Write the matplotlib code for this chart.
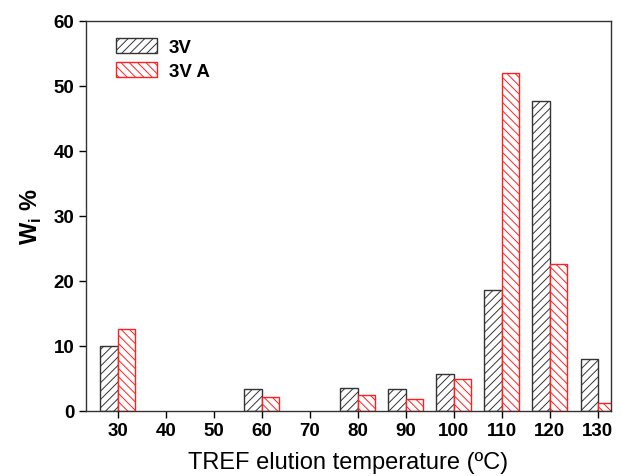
import numpy as np
import matplotlib
matplotlib.use("Agg")
import matplotlib.pyplot as plt

plt.rcParams['font.family'] = ['Liberation Sans', 'DejaVu Sans']
plt.rcParams['hatch.linewidth'] = 0.7

# TREF fractions (only temperatures with non-zero fractions)
temps = [30, 60, 80, 90, 100, 110, 120, 130]
w_3v = [9.9, 3.3, 3.5, 3.3, 5.6, 18.6, 47.7, 7.9]
w_3va = [12.6, 2.1, 2.4, 1.8, 4.9, 52.0, 22.6, 1.2]
xticks = [30, 40, 50, 60, 70, 80, 90, 100, 110, 120, 130]
yticks = [0, 10, 20, 30, 40, 50, 60]

fig = plt.figure(figsize=(6.21, 4.77), dpi=100)
ax = fig.add_axes([0.1385, 0.137, 0.845, 0.817])

x = np.array(temps, dtype=float)
width = 3.6
ax.bar(x - width / 2, w_3v, width, facecolor="white", edgecolor="#333333",
       hatch="////", linewidth=1.0, label="3V")
ax.bar(x + width / 2, w_3va, width, facecolor="white", edgecolor="#ff2020",
       hatch="\\\\\\\\", linewidth=1.0, label="3V A")

ax.set_xlim(23.4, 132.7)
ax.set_ylim(0, 60)
ax.set_xticks(xticks)
ax.set_yticks(yticks)
ax.tick_params(axis="both", direction="out", length=5, width=1, labelsize=13.5)
for lab in ax.get_xticklabels() + ax.get_yticklabels():
    lab.set_fontweight("bold")
for sp in ax.spines.values():
    sp.set_linewidth(1.0)
    sp.set_color("#333333")

ax.set_xlabel("TREF elution temperature (ºC)", fontsize=17, labelpad=8)
ax.set_ylabel("W$_\\mathregular{i}$ %", fontsize=17, fontweight="bold", labelpad=7)

leg = ax.legend(loc="upper left", bbox_to_anchor=(0.025, 1.0), frameon=False,
                prop={"weight": "bold", "size": 13.5}, handlelength=2.2,
                handleheight=0.9, handletextpad=0.6, labelspacing=0.3)

plt.savefig("out.png", dpi=100)
